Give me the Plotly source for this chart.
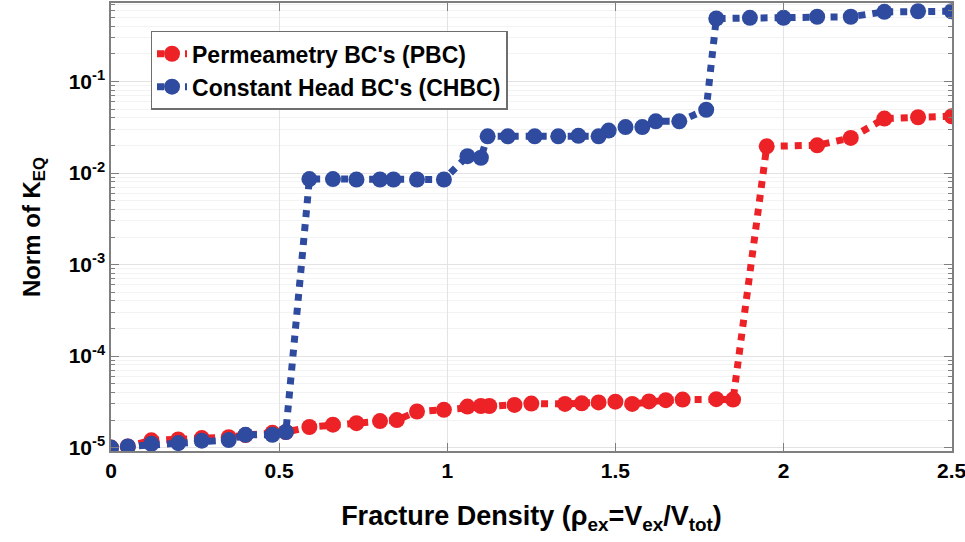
import plotly.graph_objects as go

# Permeametry BC's (PBC)
pbc_x = [0, 0.05, 0.12, 0.2, 0.27, 0.35, 0.4, 0.48, 0.52, 0.59, 0.66, 0.73, 0.8, 0.85,
         0.91, 0.99, 1.06, 1.1, 1.125, 1.2, 1.25, 1.35, 1.4, 1.45, 1.5, 1.55, 1.6,
         1.65, 1.7, 1.8, 1.85, 1.95, 2.1, 2.2, 2.3, 2.4, 2.5]
pbc_y = [1.0e-5, 1.03e-5, 1.2e-5, 1.23e-5, 1.27e-5, 1.3e-5, 1.37e-5, 1.45e-5, 1.48e-5,
         1.68e-5, 1.78e-5, 1.85e-5, 1.95e-5, 2.0e-5, 2.48e-5, 2.59e-5, 2.81e-5, 2.85e-5,
         2.85e-5, 2.93e-5, 3.03e-5, 3.0e-5, 3.05e-5, 3.12e-5, 3.18e-5, 3.0e-5, 3.2e-5,
         3.3e-5, 3.35e-5, 3.38e-5, 3.35e-5, 0.0196, 0.0201, 0.0242, 0.0394, 0.0407, 0.0417]

# Constant Head BC's (CHBC)
chbc_x = [0, 0.05, 0.12, 0.2, 0.27, 0.35, 0.4, 0.48, 0.52, 0.59, 0.66, 0.73, 0.8, 0.84,
          0.91, 0.99, 1.06, 1.1, 1.12, 1.18, 1.26, 1.33, 1.39, 1.45, 1.48, 1.53, 1.58,
          1.62, 1.69, 1.77, 1.8, 1.9, 2.0, 2.1, 2.2, 2.3, 2.4, 2.5]
chbc_y = [1.0e-5, 1.03e-5, 1.1e-5, 1.12e-5, 1.19e-5, 1.21e-5, 1.38e-5, 1.38e-5, 1.48e-5,
          0.0086, 0.0086, 0.0085, 0.0085, 0.0085, 0.0085, 0.0085, 0.0153, 0.0147, 0.0252,
          0.0252, 0.0252, 0.0252, 0.0255, 0.0252, 0.0291, 0.0318, 0.0318, 0.0367, 0.0367,
          0.0492, 0.488, 0.497, 0.497, 0.51, 0.51, 0.577, 0.586, 0.586]

y_tickvals = [1e-5, 1e-4, 1e-3, 1e-2, 1e-1]
y_ticktext = ["10<sup>-5</sup>", "10<sup>-4</sup>", "10<sup>-3</sup>", "10<sup>-2</sup>", "10<sup>-1</sup>"]
x_tickvals = [0, 0.5, 1, 1.5, 2, 2.5]
x_ticktext = ["0", "0.5", "1", "1.5", "2", "2.5"]

# minor log ticks (2..9 within each decade)
y_minor = [m * d for d in [1e-5, 1e-4, 1e-3, 1e-2, 1e-1] for m in range(2, 10)]

RED = "#EC2227"
BLUE = "#2F4B9F"
FONT = "Liberation Sans"

fig = go.Figure()
fig.add_trace(go.Scatter(
    x=pbc_x, y=pbc_y, mode="lines+markers", name="Permeametry BC's (PBC)",
    line=dict(color=RED, width=7, dash="dot"),
    marker=dict(color=RED, size=16, symbol="circle"),
))
fig.add_trace(go.Scatter(
    x=chbc_x, y=chbc_y, mode="lines+markers", name="Constant Head BC's (CHBC)",
    line=dict(color=BLUE, width=7, dash="dot"),
    marker=dict(color=BLUE, size=16, symbol="circle"),
))

fig.update_layout(
    width=965, height=542,
    margin=dict(l=111, r=13, t=3, b=91),
    paper_bgcolor="white", plot_bgcolor="white",
    font=dict(family=FONT, size=21, color="black", weight="bold"),
    showlegend=True,
    legend=dict(
        x=0.047, y=0.938, xanchor="left", yanchor="top",
        bgcolor="white", bordercolor="#6e6e6e", borderwidth=1.5,
        font=dict(family=FONT, size=23, color="black", weight="bold"),
        tracegroupgap=0, itemwidth=30,
    ),
    xaxis=dict(
        range=[0, 2.501], tickvals=x_tickvals, ticktext=x_ticktext,
        automargin=False, ticklabeloverflow="allow",
        showgrid=True, gridcolor="#e3e3e3", gridwidth=1,
        showline=True, linecolor="#7f7f7f", linewidth=1.5, mirror="ticks",
        ticks="inside", ticklen=8, tickcolor="#7f7f7f", tickwidth=1.2,
        zeroline=False,
        tickfont=dict(family=FONT, size=21, weight="bold"),
        title=dict(text="Fracture Density (ρ<sub>ex</sub>=V<sub>ex</sub>/V<sub>tot</sub>)",
                   font=dict(family=FONT, size=27, weight="bold"), standoff=25),
    ),
    yaxis=dict(
        type="log", range=[-5.037, -0.142],
        tickvals=y_tickvals, ticktext=y_ticktext,
        automargin=False,
        showgrid=True, gridcolor="#e3e3e3", gridwidth=1,
        showline=True, linecolor="#7f7f7f", linewidth=1.5, mirror="ticks",
        ticks="inside", ticklen=8, tickcolor="#7f7f7f", tickwidth=1.2,
        zeroline=False,
        minor=dict(tickvals=y_minor, ticks="inside", ticklen=4, tickcolor="#7f7f7f",
                   showgrid=True, gridcolor="#f3f3f3", gridwidth=1),
        tickfont=dict(family=FONT, size=21, weight="bold"),
        title=dict(text="Norm of K<sub>EQ</sub>",
                   font=dict(family=FONT, size=24, weight="bold"), standoff=21),
    ),
)

fig.write_html("out.html", config={"displayModeBar": False},
               post_script="document.body.style.margin='0';")
